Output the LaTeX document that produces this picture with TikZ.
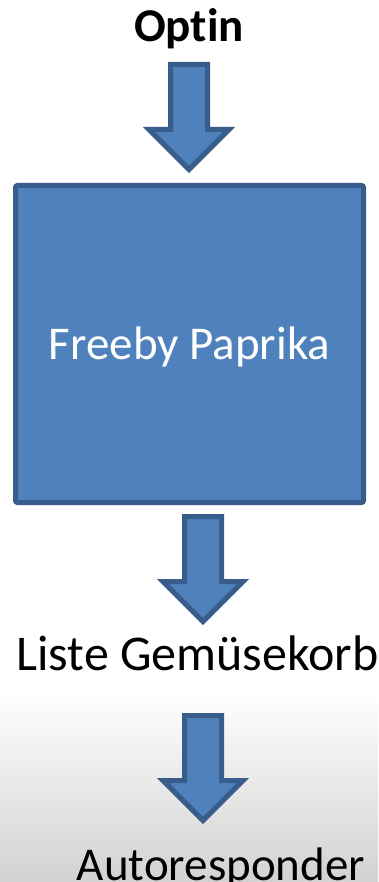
\documentclass[tikz,border=0pt]{standalone}
\usepackage{fontspec}
\setmainfont[Ligatures=NoCommon]{Carlito}
\usetikzlibrary{calc}

\definecolor{boxblue}{HTML}{4F81BD}
\definecolor{boxedge}{HTML}{385D8A}
\definecolor{fadegray}{HTML}{D2D2D2}

\tikzset{
  caption/.style={font=\fontsize{47}{56}\selectfont, inner sep=0pt, anchor=base},
  panel/.style={draw=boxedge, fill=boxblue, line width=5pt, rounded corners=2pt,
    minimum width=348pt, minimum height=317pt, text=white,
    font=\fontsize{47}{56}\selectfont, text height=31pt, text depth=0pt},
  blockarrow/.style={draw=boxedge, fill=boxblue, line width=5pt, line join=miter},
}

% block arrow from #1 (top of shaft) down to #2 (tip)
\newcommand{\blockarrow}[2]{%
  \draw[blockarrow] ($(#1)+(-18.5,0)$) -- ($(#1)+(18.5,0)$)
    -- ($(#2)+(18.5,-40)$) -- ($(#2)+(40,-40)$) -- (#2)
    -- ($(#2)+(-40,-40)$) -- ($(#2)+(-18.5,-40)$) -- cycle;}

\begin{document}
\begin{tikzpicture}[x=1pt,y=-1pt]
  \clip (0,0) rectangle (378,882);
  \fill[top color=white, bottom color=fadegray] (0,690) rectangle (378,882);

  \node[caption, font=\fontsize{47}{56}\selectfont\bfseries] (optin) at (189,42) {Optin};
  \node[panel] (freeby) at (189.5,344) {Freeby Paprika};
  \node[caption, font=\fontsize{50}{60}\selectfont] (liste) at (197.5,670) {Liste Gemüsekorb};
  \node[caption] (auto) at (221,880) {Autoresponder};

  \coordinate (a1s) at (189,64.5);
  \coordinate (a1e) at (189,169.5);
  \coordinate (a2s) at (203,516.5);
  \coordinate (a2e) at (203,621.5);
  \coordinate (a3s) at (203,715.5);
  \coordinate (a3e) at (203,820.5);

  \blockarrow{a1s}{a1e}
  \blockarrow{a2s}{a2e}
  \blockarrow{a3s}{a3e}
\end{tikzpicture}
\end{document}
